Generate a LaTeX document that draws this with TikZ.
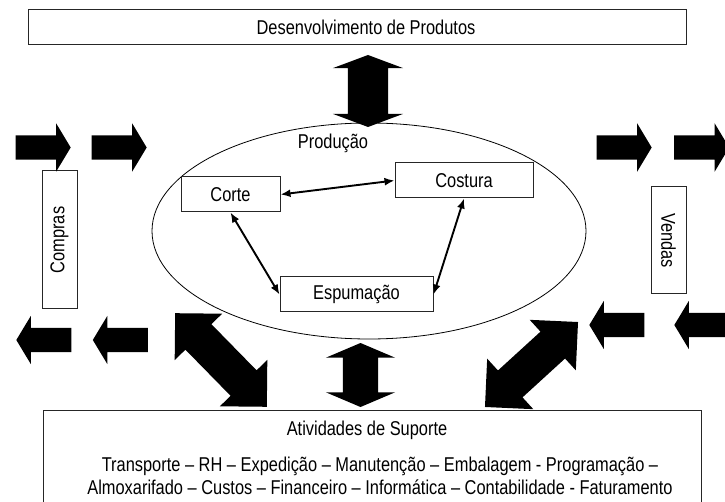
\documentclass[tikz,border=0pt]{standalone}
\usepackage{fontspec}
\setmainfont{Liberation Sans}[FakeStretch=0.82]
\usetikzlibrary{shapes.geometric,shapes.arrows,arrows.meta}
\tikzset{box/.style={rectangle, draw=black!85, line width=1pt, inner sep=0pt}}
\tikzset{link/.style={{Latex[length=10pt,width=8pt]}-{Latex[length=10pt,width=8pt]}, line width=1.9pt}}
\tikzset{flow/.style={single arrow, fill=black, inner xsep=0pt, inner ysep=12pt, text height=0pt, text depth=0pt,
    single arrow head extend=12pt, single arrow tip angle=118, minimum height=55pt}}
\tikzset{bigflow/.style={double arrow, fill=black, inner xsep=0pt, text height=0pt, text depth=0pt}}

\begin{document}
\begin{tikzpicture}[x=1pt, y=-1pt, font=\fontsize{20}{23}\selectfont]
\useasboundingbox (0,0) rectangle (725,502);

\node (desenv) at (357,27.5)[box, minimum width=658, minimum height=35]{};
\node (desenvtxt) at (366,27.5){Desenvolvimento de Produtos};
\node (suporte) at (372,457)[box, minimum width=658, minimum height=94]{};
\node (suptitulo) at (367,430){Atividades de Suporte};
\node (tarefas) at (380,475.5)[align=center]{Transporte -- RH -- Expedição -- Manutenção -- Embalagem - Programação --\\Almoxarifado -- Custos -- Financeiro -- Informática -- Contabilidade - Faturamento};

% producao
\node (producao) at (369,231)[ellipse, draw, line width=0.8pt, minimum width=434, minimum height=216]{};
\node (prodlabel) at (333,143){Produção};
\node (corte) at (230.5,194.5)[box, minimum width=99, minimum height=35]{Corte};
\node (costura) at (464,180.5)[box, minimum width=138, minimum height=35]{Costura};
\node (espuma) at (356.5,294.5)[box, minimum width=153, minimum height=35]{Espumação};
\draw[link] (corte.east) -- (costura.west);
\draw[link] (corte.south) -- (espuma.west);
\draw[link] (costura.south) -- (espuma.east);

\node (compras) at (59.5,240)[box, rotate=90, minimum width=138, minimum height=35]{Compras};
\node (vendas) at (668.5,240.5)[box, rotate=-90, minimum width=107, minimum height=35]{Vendas};

% setas
\node (ent1) at (39.5,147.5)[flow]{};
\node (ent2) at (115.5,147.5)[flow]{};
\node (dev1) at (47.5,340)[flow, rotate=180]{};
\node (dev2) at (124,340)[flow, rotate=180]{};
\node (sai1) at (620.5,147.5)[flow]{};
\node (sai2) at (698,147.5)[flow]{};
\node (ret1) at (620.5,325)[flow, rotate=180]{};
\node (ret2) at (705.5,325)[flow, rotate=180]{};

\node (setaprod) at (368,91)[bigflow, rotate=90, inner ysep=20pt, double arrow head extend=15pt,
    double arrow tip angle=139, minimum height=72pt]{};
\node (setasup) at (360.5,375)[bigflow, rotate=90, inner ysep=17.5pt, double arrow head extend=17pt,
    double arrow tip angle=134, minimum height=64pt]{};
\node (setaesq) at (221,360)[bigflow, rotate=-45.6, inner ysep=18pt, double arrow head extend=15pt,
    double arrow tip angle=90, minimum height=131pt]{};
\node (setadir) at (531.5,364.5)[bigflow, rotate=42.4, inner ysep=18pt, double arrow head extend=16pt,
    double arrow tip angle=90, minimum height=126pt]{};
\end{tikzpicture}
\end{document}
